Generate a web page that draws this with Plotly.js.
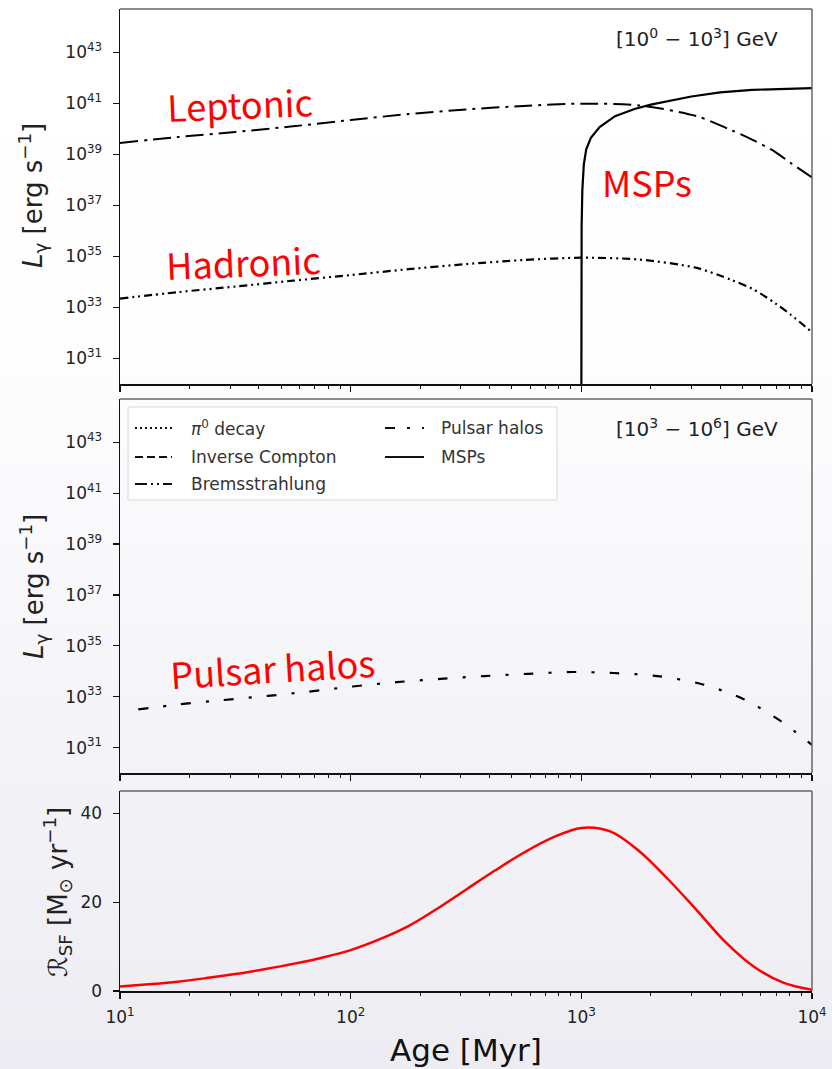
<!DOCTYPE html>
<html>
<head>
<meta charset="utf-8">
<script src="https://cdn.plot.ly/plotly-3.0.1.min.js"></script>
<style>
html,body{margin:0;padding:0;}
body{width:832px;height:1069px;background:linear-gradient(to bottom,#ffffff 0%,#fefefe 30%,#f8f8fb 55%,#f1f1f6 80%,#ececf2 100%);}
#chart{width:832px;height:1069px;}
</style>
</head>
<body>
<div id="chart"></div>
<script>
// ---------- data (ages in Myr; luminosities as log10 of erg/s) ----------
const leptonicAge   = [10, 17.8, 31.6, 56.2, 100, 178, 316, 562, 1000, 1778, 3162, 4467, 5495, 6918, 8128, 10000];
const leptonicLog10 = [39.45, 39.68, 39.88, 40.10, 40.35, 40.58, 40.76, 40.90, 40.99, 40.92, 40.50, 39.95, 39.58, 39.10, 38.65, 38.10];

const hadronicAge   = [10, 17.8, 31.6, 56.2, 100, 178, 316, 562, 1000, 1778, 3162, 4467, 5495, 6918, 8128, 10000];
const hadronicLog10 = [33.35, 33.60, 33.82, 34.05, 34.27, 34.50, 34.70, 34.86, 34.95, 34.88, 34.55, 34.08, 33.74, 33.17, 32.70, 32.03];

const mspAge   = [1000, 1001, 1003, 1010, 1025, 1050, 1100, 1200, 1400, 1700, 2000, 3000, 4000, 5500, 7500, 10000];
const mspLog10 = [29.0, 34.5, 36.2, 37.6, 38.6, 39.2, 39.65, 40.07, 40.5, 40.78, 40.95, 41.27, 41.43, 41.53, 41.58, 41.6];

const halosAge   = [12, 18.2, 28.2, 43.7, 66.1, 102, 158, 245, 380, 589, 912, 1380, 2138, 3311, 5012, 7244, 10000];
const halosLog10 = [32.50, 32.70, 32.87, 33.03, 33.20, 33.40, 33.57, 33.70, 33.81, 33.90, 33.97, 33.93, 33.81, 33.50, 32.92, 32.07, 31.10];

const sfrAge = [10, 13.3, 17.8, 23.7, 31.6, 42.2, 56.2, 75.0, 100, 133, 178, 237, 316, 422, 562, 750, 1000, 1334, 1778, 2371, 3162, 4217, 5623, 7499, 10000];
const sfrVal = [1.0, 1.5, 2.1, 2.9, 3.8, 4.9, 6.1, 7.5, 9.2, 11.6, 14.6, 18.5, 22.8, 27.1, 31.1, 34.5, 36.7, 35.9, 31.5, 25.2, 18.2, 11.0, 5.4, 1.9, 0.3];

const lumTickExp = [31, 33, 35, 37, 39, 41, 43];
const ageTickExp = [1, 2, 3, 4];
const sfrTicks = [0, 20, 40];

const legendCol1 = ['<i>π</i><sup>0</sup> decay', 'Inverse Compton', 'Bremsstrahlung'];
const legendCol2 = ['Pulsar halos', 'MSPs'];

// ---------- helpers ----------
const W = 832, H = 1069;
const px = v => v / W;
const py = v => 1 - v / H;
const pow10 = a => a.map(v => Math.pow(10, v));

const lumTickVals = lumTickExp.map(e => Math.pow(10, e));
const lumTickText = lumTickExp.map(e => '10<sup>' + e + '</sup>');
const ageTickVals = ageTickExp.map(e => Math.pow(10, e));
const ageTickText = ageTickExp.map(e => '10<sup>' + e + '</sup>');
const minorAge = [];
for (let d = 10; d < 10000; d *= 10) for (let k = 2; k <= 9; k++) minorAge.push(k * d);

const FONT = 'DejaVu Sans, sans-serif';
const LABEL_FONT = 'Noto Sans CJK JP, Noto Sans, sans-serif';
const xDom = [px(120), px(812)];

const traces = [
  {x: leptonicAge, y: pow10(leptonicLog10), xaxis: 'x', yaxis: 'y', mode: 'lines',
   line: {color: '#000', width: 2, dash: '18px,6px,3px,6px', shape: 'spline', smoothing: 0.8}, showlegend: false, hoverinfo: 'skip'},
  {x: hadronicAge, y: pow10(hadronicLog10), xaxis: 'x', yaxis: 'y', mode: 'lines',
   line: {color: '#000', width: 2.2, dash: '8px,4px,2px,4px,2px,4px', shape: 'spline', smoothing: 0.8}, showlegend: false, hoverinfo: 'skip'},
  {x: mspAge, y: pow10(mspLog10), xaxis: 'x', yaxis: 'y', mode: 'lines',
   line: {color: '#000', width: 2.2}, showlegend: false, hoverinfo: 'skip'},
  {x: halosAge, y: pow10(halosLog10), xaxis: 'x2', yaxis: 'y2', mode: 'lines',
   line: {color: '#000', width: 2.2, dash: '10px,15px,3px,15px', shape: 'spline', smoothing: 0.8}, showlegend: false, hoverinfo: 'skip'},
  {x: sfrAge, y: sfrVal, xaxis: 'x3', yaxis: 'y3', mode: 'lines',
   line: {color: '#ff0000', width: 2.5, shape: 'spline', smoothing: 1}, showlegend: false, hoverinfo: 'skip'}
];

function xAxis(anchor, showLabels) {
  return {
    type: 'log', range: [1, 4], domain: xDom, anchor: anchor,
    showline: true, linecolor: '#111', linewidth: 1.5, mirror: false,
    ticks: 'outside', ticklen: 6, tickwidth: 1.2, tickcolor: '#111',
    tickmode: 'array', tickvals: ageTickVals, ticktext: ageTickText,
    showticklabels: showLabels, ticklabelstandoff: 4,
    tickfont: {family: FONT, size: 17, color: '#222'},
    minor: {tickmode: 'array', tickvals: minorAge, ticks: 'outside', ticklen: 3.5, tickwidth: 1, tickcolor: '#111', showgrid: false},
    showgrid: false, zeroline: false, automargin: false, fixedrange: true
  };
}
function lumAxis(dom) {
  return {
    type: 'log', range: [30, 44.7], domain: dom,
    showline: true, linecolor: '#111', linewidth: 1.5,
    ticks: 'outside', ticklen: 6, tickwidth: 1.2, tickcolor: '#111',
    tickmode: 'array', tickvals: lumTickVals, ticktext: lumTickText,
    ticklabelstandoff: 7,
    tickfont: {family: FONT, size: 17, color: '#222'},
    showgrid: false, zeroline: false, automargin: false, fixedrange: true
  };
}

const layout = {
  width: W, height: H,
  margin: {l: 0, r: 0, t: 0, b: 0},
  paper_bgcolor: 'rgba(0,0,0,0)', plot_bgcolor: 'rgba(0,0,0,0)',
  showlegend: false,
  xaxis: xAxis('y', false),
  xaxis2: xAxis('y2', false),
  xaxis3: xAxis('y3', true),
  yaxis: Object.assign(lumAxis([py(384), py(9)]), {anchor: 'x'}),
  yaxis2: Object.assign(lumAxis([py(773), py(399)]), {anchor: 'x2'}),
  yaxis3: {
    type: 'linear', range: [0, 45], domain: [py(991), py(791)], anchor: 'x3',
    showline: true, linecolor: '#111', linewidth: 1.5,
    ticks: 'outside', ticklen: 6, tickwidth: 1.2, tickcolor: '#111',
    tickmode: 'array', tickvals: sfrTicks, ticklabelstandoff: 7,
    tickfont: {family: FONT, size: 17, color: '#222'},
    showgrid: false, zeroline: false, automargin: false, fixedrange: true
  },
  shapes: [],
  annotations: []
};

// top/right spines
[['x','y'],['x2','y2'],['x3','y3']].forEach(([xa, ya]) => {
  layout.shapes.push({type: 'line', xref: xa + ' domain', yref: ya + ' domain', x0: 0, x1: 1, y0: 1, y1: 1, line: {color: '#666', width: 1.5}});
  layout.shapes.push({type: 'line', xref: xa + ' domain', yref: ya + ' domain', x0: 1, x1: 1, y0: 0, y1: 1, line: {color: '#666', width: 1.5}});
});

// legend box (middle panel)
const bx0 = px(128), bx1 = px(557), by0 = py(500), by1 = py(407);
layout.shapes.push({type: 'rect', xref: 'paper', yref: 'paper', x0: bx0, x1: bx1, y0: by0, y1: by1,
  fillcolor: 'rgba(255,255,255,0.85)', line: {color: '#d8d8d8', width: 1}, layer: 'below'});
const rowsY = [428, 457, 484];
const col1Dash = ['2px,3px', '8px,4px', '12px,4px,2px,4px,2px,4px'];
const col2Dash = ['10px,12px,3px,12px', 'solid'];
legendCol1.forEach((t, i) => {
  layout.shapes.push({type: 'line', xref: 'paper', yref: 'paper', x0: px(135), x1: px(172), y0: py(rowsY[i]), y1: py(rowsY[i]),
    line: {color: '#111', width: 2, dash: col1Dash[i]}});
  layout.annotations.push({xref: 'paper', yref: 'paper', x: px(189), y: py(rowsY[i]), xanchor: 'left', yanchor: 'middle',
    text: t, showarrow: false, font: {family: FONT, size: 17, color: '#333'}});
});
legendCol2.forEach((t, i) => {
  layout.shapes.push({type: 'line', xref: 'paper', yref: 'paper', x0: px(385), x1: px(424), y0: py(rowsY[i]), y1: py(rowsY[i]),
    line: {color: '#111', width: 2, dash: col2Dash[i]}});
  layout.annotations.push({xref: 'paper', yref: 'paper', x: px(439), y: py(rowsY[i]), xanchor: 'left', yanchor: 'middle',
    text: t, showarrow: false, font: {family: FONT, size: 17, color: '#333'}});
});

function ann(text, x, y, opts) {
  layout.annotations.push(Object.assign({xref: 'paper', yref: 'paper', x: px(x), y: py(y), text: text, showarrow: false,
    xanchor: 'center', yanchor: 'middle'}, opts));
}
// energy band labels
ann('[10<sup>0</sup> − 10<sup>3</sup>] GeV', 780, 38, {xanchor: 'right', font: {family: FONT, size: 20, color: '#222'}});
ann('[10<sup>3</sup> − 10<sup>6</sup>] GeV', 780, 428, {xanchor: 'right', font: {family: FONT, size: 20, color: '#222'}});
// red labels
ann('Leptonic', 240, 103, {textangle: -2.3, font: {family: LABEL_FONT, size: 36, color: '#ff0000'}});
ann('Hadronic', 243, 261, {textangle: -2.3, font: {family: LABEL_FONT, size: 36, color: '#ff0000'}});
ann('MSPs', 600, 181, {xanchor: 'left', font: {family: LABEL_FONT, size: 36, color: '#ff0000'}});
ann('Pulsar halos', 272, 667, {textangle: -3.5, font: {family: LABEL_FONT, size: 36, color: '#ff0000'}});
// axis titles
ann('<i>L</i><sub>γ</sub> [erg s<sup>−1</sup>]', 33, 196, {textangle: -90, font: {family: FONT, size: 26, color: '#222'}});
ann('<i>L</i><sub>γ</sub> [erg s<sup>−1</sup>]', 33, 587, {textangle: -90, font: {family: FONT, size: 26, color: '#222'}});
ann('ℛ<sub>SF</sub> [M<sub>⊙</sub> yr<sup>−1</sup>]', 57, 892, {textangle: -90, font: {family: FONT, size: 26, color: '#222'}});
ann('Age [Myr]', 466, 1050, {font: {family: FONT, size: 31, color: '#111'}});

Plotly.newPlot('chart', traces, layout, {displayModeBar: false, staticPlot: true});
</script>
</body>
</html>
